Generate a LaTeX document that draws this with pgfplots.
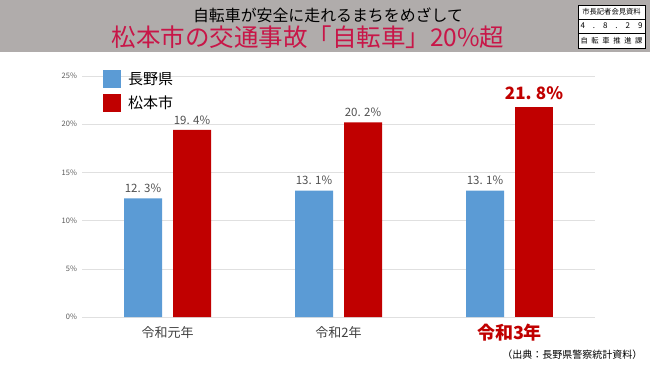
\documentclass[border=0pt]{standalone}
\usepackage{pgfplots}
\pgfplotsset{compat=1.18}
\usepackage{fontspec}
\setmainfont{Noto Sans CJK JP}
\definecolor{band}{RGB}{176,172,171}
\definecolor{titlered}{RGB}{200,22,72}
\definecolor{barblue}{RGB}{91,155,213}
\definecolor{barred}{RGB}{192,0,0}
\definecolor{labelgray}{RGB}{64,64,64}
\definecolor{vgray}{RGB}{80,80,80}
\definecolor{tickgray}{RGB}{89,89,89}
\begin{document}
\begin{tikzpicture}
\path[use as bounding box] (0pt,0pt) rectangle (650pt,365pt);
\fill[band] (0pt,313pt) rectangle (650pt,365pt);
\node[font=\fontsize{15.9}{18}\selectfont, text=black] at (328pt,350pt) {自転車が安全に走れるまちをめざして};
\node[font=\fontsize{24.5}{28}\selectfont, text=titlered] at (308pt,328pt) {松本市の交通事故「自転車」20\%超};
% document box
\fill[white] (578pt,317pt) rectangle (645pt,360pt);
\draw[black, line width=0.5pt] (578pt,317pt) rectangle (645pt,360pt);
\draw[black, line width=0.4pt] (578pt,346pt) -- (645pt,346pt);
\draw[black, line width=0.4pt] (578pt,332pt) -- (645pt,332pt);
\node[font=\fontsize{7.3}{8}\selectfont] at (611.5pt,353pt) {市長記者会見資料};
\node[font=\fontsize{8}{9}\selectfont] at (611.5pt,339pt) {\makebox[62pt][s]{4\hfill.\hfill8\hfill.\hfill2\hfill9}};
\node[font=\fontsize{7.3}{8}\selectfont] at (611.5pt,324.5pt) {\makebox[62pt][s]{自\hfill 転\hfill 車\hfill 推\hfill 進\hfill 課}};
\begin{axis}[
  at={(82pt,48pt)}, anchor=south west,
  scale only axis, width=513pt, height=241pt,
  xmin=-0.5, xmax=2.5, ymin=0, ymax=25,
  ybar, bar width=38pt,
  axis line style={draw=none},
  major tick length=0pt,
  ymajorgrids, grid style={line width=0.6pt, color=black!12},
  xtick={0,1,2},
  xticklabels={令和元年,令和2年,{\textcolor{barred}{\bfseries\fontsize{18}{20}\selectfont 令和3年}}},
  xticklabel style={font=\fontsize{13}{15}\selectfont, text=labelgray, anchor=center, yshift=-16pt},
  ytick={0,5,10,15,20,25},
  yticklabel={\pgfmathprintnumber{\tick}\%},
  /pgf/number format/assume math mode=true,
  yticklabel style={font=\fontsize{7.5}{8}\selectfont, text=tickgray, xshift=-1.5pt},
  clip=false,
  legend style={at={(0.041,1.025)}, anchor=north west, draw=none, fill=none,
    font=\fontsize{15}{17}\selectfont, row sep=6pt, column sep=7pt, inner sep=0pt,
    nodes={inner sep=0pt, minimum height=18pt}},
  legend cell align=left,
  legend image code/.code={\fill[#1] (0pt,-9pt) rectangle (18pt,9pt);},
  nodes near coords={\pgfplotspointmeta\%},
  point meta=explicit symbolic,
  every node near coord/.append style={font=\fontsize{11.5}{13}\selectfont, text=vgray, anchor=center, yshift=10pt},
]
\addplot[fill=barblue, draw=none, bar shift=-24.5pt] coordinates {(0,12.3) [12.\hspace{0.3em}3] (1,13.1) [13.\hspace{0.3em}1] (2,13.1) [13.\hspace{0.3em}1]};
\addlegendentry{長野県}
\addplot[fill=barred, draw=none, bar shift=24.5pt] coordinates {(0,19.4) [19.\hspace{0.3em}4] (1,20.2) [20.\hspace{0.3em}2]};
\addlegendentry{松本市}
\addplot[fill=barred, draw=none, bar shift=24.5pt, forget plot,
  every node near coord/.append style={font=\bfseries\fontsize{17}{19}\selectfont, text=barred, yshift=4pt}] coordinates {(2,21.8) [21.\hspace{0.25em}8]};
\end{axis}
\node[anchor=east, font=\fontsize{10}{12}\selectfont, text=black] at (646pt,10pt) {（出典：長野県警察統計資料）};
\end{tikzpicture}
\end{document}
